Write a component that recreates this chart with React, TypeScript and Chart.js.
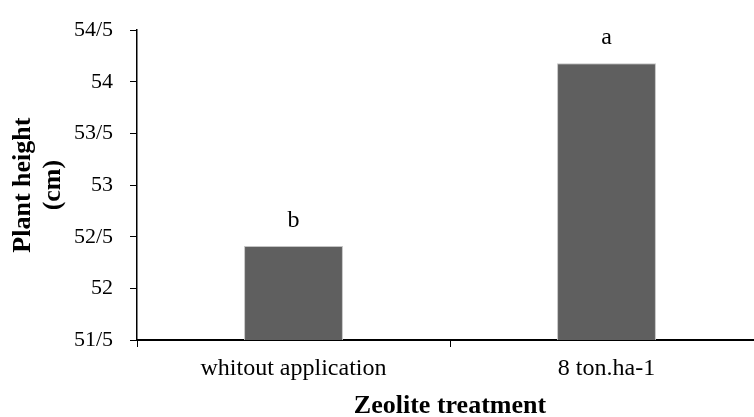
import React, { useEffect, useRef } from "react";
import { Chart, registerables } from "chart.js";

Chart.register(...registerables);

const categories = ["whitout application", "8 ton.ha-1"];
const plantHeight = [52.41, 54.18];
const significanceLetters = ["b", "a"];
const yMin = 51.5;
const yMax = 54.5;
const yStep = 0.5;
const yTitleLines = ["Plant height", "(cm)"];
const xTitle = "Zeolite treatment";

const SERIF = "'Liberation Serif', 'Times New Roman', serif";

const textPlugin = {
  id: "customText",
  afterDraw(chart: any) {
    const ctx = chart.ctx;
    const area = chart.chartArea;
    ctx.save();
    ctx.fillStyle = "#000";
    // bar letters
    const meta = chart.getDatasetMeta(0);
    ctx.font = `24px ${SERIF}`;
    ctx.textAlign = "center";
    ctx.textBaseline = "alphabetic";
    meta.data.forEach((bar: any, i: number) => {
      ctx.fillText(significanceLetters[i], bar.x, bar.y - 19);
    });
    // x title
    ctx.font = `bold 26px ${SERIF}`;
    ctx.textAlign = "center";
    ctx.textBaseline = "alphabetic";
    ctx.fillText(xTitle, (area.left + area.right) / 2, 413);
    // y title
    const cy = (area.top + area.bottom) / 2;
    ctx.translate(0, cy);
    ctx.rotate(-Math.PI / 2);
    ctx.textBaseline = "middle";
    yTitleLines.forEach((line, i) => {
      ctx.fillText(line, 0, 23 + i * 30);
    });
    ctx.restore();
  },
};

export default function App() {
  const ref = useRef<HTMLCanvasElement>(null);
  useEffect(() => {
    if (!ref.current) return;
    const chart = new Chart(ref.current, {
      type: "bar",
      data: {
        labels: categories,
        datasets: [
          {
            data: plantHeight,
            backgroundColor: "#5f5f5f",
            borderColor: "#c4c4c4",
            borderWidth: 1,
            borderSkipped: "bottom",
            categoryPercentage: 0.316,
            barPercentage: 1,
          },
        ],
      },
      options: {
        responsive: false,
        animation: false,
        devicePixelRatio: 1,
        layout: { padding: { left: 0, top: 26, right: 17, bottom: 0 } },
        plugins: {
          legend: { display: false },
          tooltip: { enabled: false },
        },
        scales: {
          x: {
            offset: true,
            grid: {
              offset: true,
              display: true,
              drawOnChartArea: false,
              drawTicks: true,
              tickLength: 7,
              color: "#000",
            },
            border: { display: true, color: "#000", width: 2 },
            ticks: {
              color: "#000",
              font: { family: SERIF, size: 24 },
              padding: 7,
              maxRotation: 0,
            },
            afterFit: (scale: any) => {
              scale.height = 77;
            },
          },
          y: {
            min: yMin,
            max: yMax,
            grid: {
              display: true,
              drawOnChartArea: false,
              drawTicks: true,
              tickLength: 7,
              color: "#000",
            },
            border: { display: true, color: "#000", width: 1.5 },
            ticks: {
              stepSize: yStep,
              color: "#000",
              font: { family: SERIF, size: 22 },
              padding: 17,
              callback: (v: any) =>
                (Math.round(Number(v) * 10) / 10).toString().replace(".", "/"),
            },
            afterFit: (scale: any) => {
              scale.width = 137;
            },
          },
        },
      },
      plugins: [textPlugin],
    });
    return () => chart.destroy();
  }, []);
  return (
    <div
      style={{
        position: "fixed",
        left: 0,
        top: 0,
        width: 780,
        height: 417,
        background: "#fff",
      }}
    >
      <canvas ref={ref} width={780} height={417} />
    </div>
  );
}
